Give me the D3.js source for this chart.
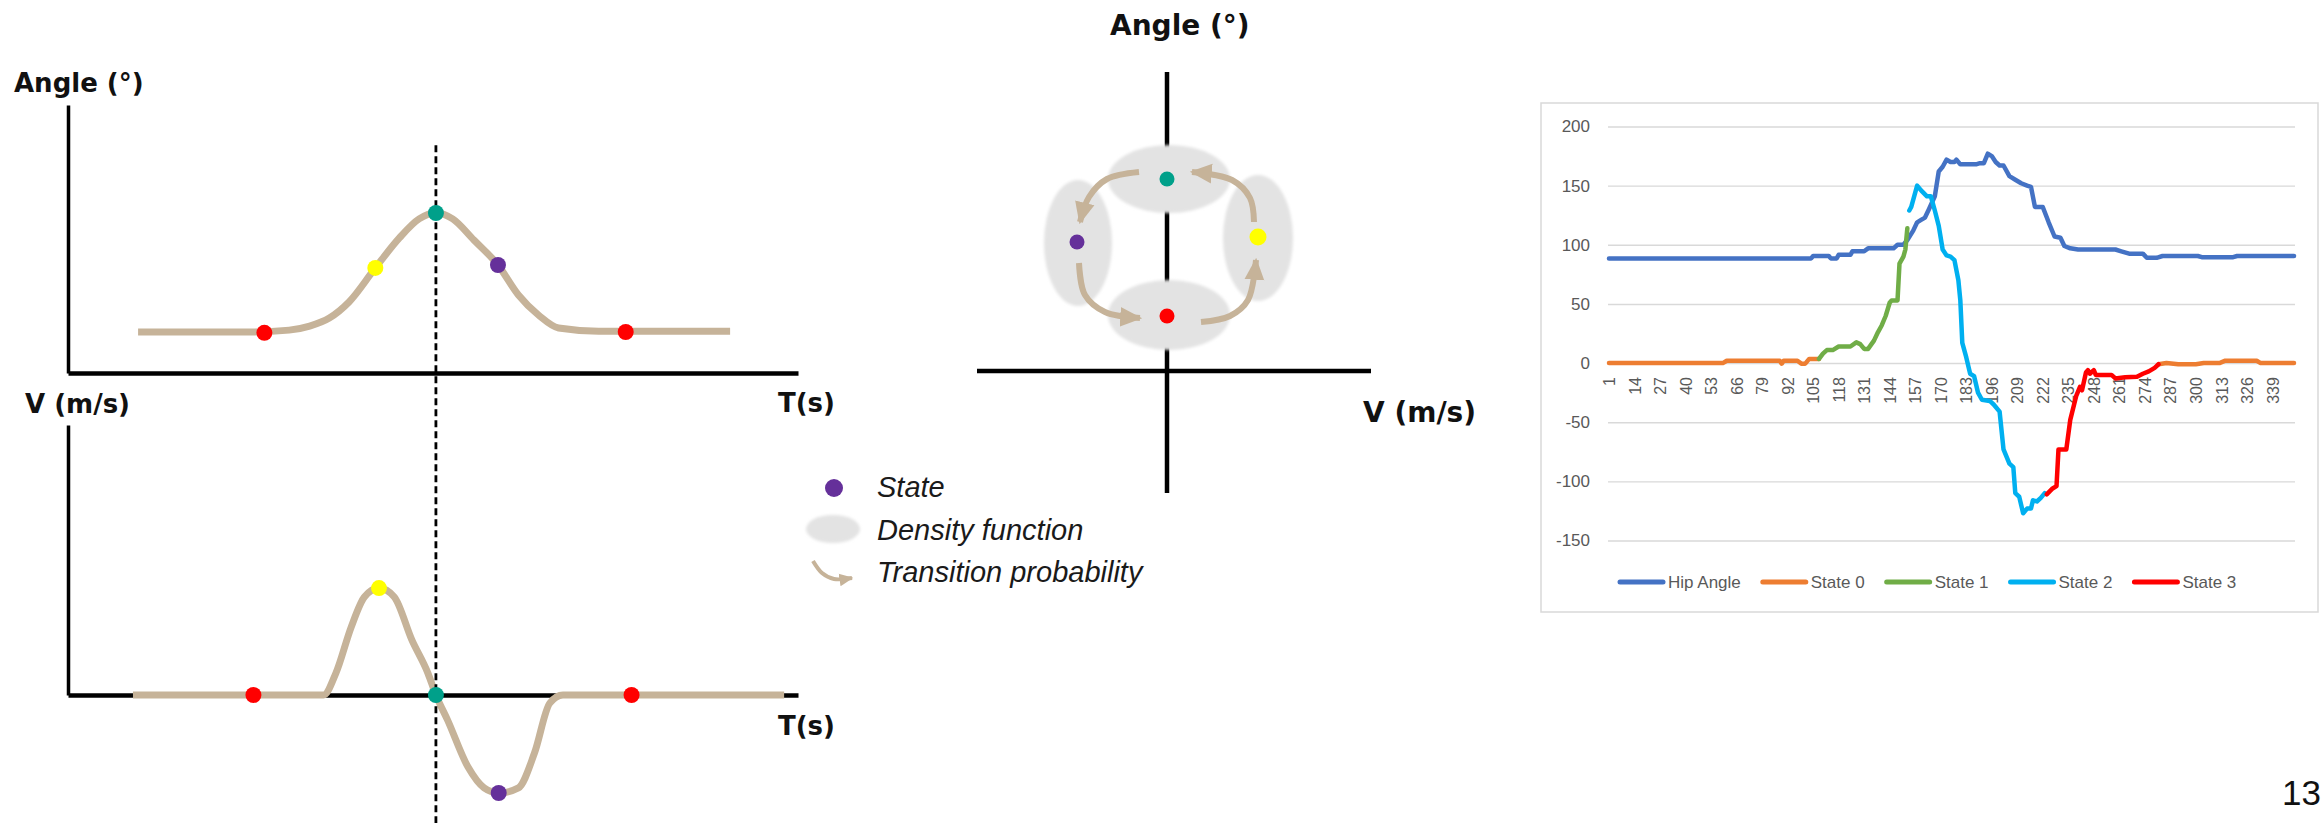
<!DOCTYPE html>
<html><head><meta charset="utf-8">
<script src="https://cdn.jsdelivr.net/npm/d3@7"></script>
<style>
html,body{margin:0;padding:0;background:#fff;}
svg{display:block;}
</style></head><body>
<svg id="fig" width="2323" height="823"></svg>
<script>
// ================= DATA =================
// --- left schematic: hip angle over time (arbitrary units 0..100) ---
const angleTime  = [9.6, 24.9, 30.3, 33.1, 35.8, 38.5, 42.1, 45.4, 48.1, 50.4, 52.7, 55.6, 58.9, 61.7, 64.5, 67.2, 72.7, 90.7];
const angleValue = [15.3, 15.3, 16.0, 17.5, 20.5, 26.5, 39.2, 50.4, 57.5, 59.7, 57.5, 49.6, 40.3, 29.1, 21.5, 16.8, 15.6, 15.6];
// --- left schematic: angular velocity over time ---
const velTime  = [8.9, 35.0, 36.7, 38.8, 40.6, 42.6, 44.7, 47.1, 49.3, 50.4, 52.0, 54.8, 57.0, 59.0, 61.7, 63.9, 66.0, 67.8, 98.1];
const velValue = [0, 0, 8.1, 25.2, 36.3, 39.6, 36.3, 20.4, 8.1, 0, -9.3, -26.7, -34.4, -36.3, -34.4, -21.5, -3.0, 0, 0];
// --- states marked on the schematic curves ---
const stateTime      = [26.9, 42.1, 50.4, 58.9, 76.4];
const stateAngle     = [15.0, 39.2, 59.7, 40.3, 15.3];
const stateVelTime   = [25.4, 42.6, 50.4, 59.0, 77.2];
const stateVel       = [0, 39.6, 0, -36.3, 0];
const stateColors    = ["#ff0000", "#ffff00", "#00a08a", "#65309a", "#ff0000"];
const dividerTime    = 50.4;
// --- middle: state space (velocity, angle) ---
const midStateV      = [0, -45, 0, 45.5];
const midStateA      = [96, 64.5, 27.5, 67];
const midStateColors = ["#00a08a", "#65309a", "#ff0000", "#ffff00"];
const densityV       = [1, -44.5, 1, 45.5];
const densityA       = [96, 64, 28, 66.5];
const densityRV      = [30.5, 17, 30.5, 17.5];
const densityRA      = [17, 31.5, 17.5, 31.5];
const transitions = [
  [[-14, 99.5], [-30, 96], [-39, 87], [-43.5, 74.5]],
  [[-44, 54], [-41, 38], [-31, 29.5], [-13.5, 26.5]],
  [[17, 24.5], [31.5, 27.5], [40.5, 35.5], [44.5, 55.5]],
  [[43.5, 74.5], [41.5, 86.5], [32.5, 95.5], [12.5, 99.5]]
];
const legendLabels = ["State", "Density function", "Transition probability"];
// --- right: Excel chart ---
const seriesNames  = ["Hip Angle", "State 0", "State 1", "State 2", "State 3"];
const seriesColors = ["#4472c4", "#ed7d31", "#70ad47", "#00b0f0", "#ff0000"];
const categoryCount = 350;
const xTickLabels = [1,14,27,40,53,66,79,92,105,118,131,144,157,170,183,196,209,222,235,248,261,274,287,300,313,326,339];
const yTickLabels = [-150,-100,-50,0,50,100,150,200];
const hipAngle = [[1,88.5],[104,88.5],[105,90.5],[113,90.5],[114,88.5],[117,88.5],[118,91.5],[124,91.5],[125,94.5],[131,94.5],[133,97],[146,97],[148,100],[151,100],[153,104],[156,112],[158,119],[160,121],[162,123],[164,130],[167,141],[169,162],[171,166],[173,172],[175,170],[177,170],[178,172],[180,168],[188,168],[190,169],[192,169],[194,177],[196,175],[198,170],[200,167],[202,167],[205,158],[208,155],[211,152],[214,150],[216,149],[218,132],[222,132],[225,119],[228,107],[231,106],[233,99],[236,97],[240,96],[259,96],[262,94.5],[266,92.5],[273,92.5],[275,89],[280,89],[283,90.5],[301,90.5],[303,89.5],[319,89.5],[321,90.5],[350,90.5]];
const state0 = [[1,0],[59,0],[61,2],[88,2],[89,-0.5],[90,2],[97,2],[99,-0.5],[101,-0.5],[103,3.5],[108,3.5],null,[281,-1],[285,0],[291,-1],[300,-1],[304,0],[312,0],[315,2],[331,2],[333,0],[350,0]];
const state1 = [[108,3.5],[110,8],[112,11],[115,11],[118,14],[124,14],[127,17.5],[129,16],[131,12],[133,12],[136,19],[138,26],[140,32],[142,40],[144,51],[145,53],[148,53],[149,84],[151,90],[152,96],[153,114]];
const state2 = [[154,129],[155,132],[158,150],[160,146],[163,141],[165,141],[167,129],[169,116],[171,96],[173,91],[175,90],[177,87],[179,70],[180,53],[181,17],[183,5],[185,-9],[187,-11],[189,-25],[191,-31],[195,-32],[197,-35],[200,-41],[202,-73],[205,-85],[207,-88],[208,-110],[210,-113],[212,-127],[214,-123],[216,-123],[217,-116],[219,-117],[221,-114],[223,-110]];
const state3 = [[224,-111],[227,-106],[229,-104],[230,-73],[234,-73],[236,-48],[239,-28],[241,-20],[242,-23],[244,-8],[245,-6],[246,-9],[248,-6],[249,-10],[257,-10],[259,-13],[264,-12],[270,-11.5],[273,-9],[276,-7],[279,-4],[281,-1]];
const pageNumber = "13";

// ================= DRAWING =================
const svg = d3.select("#fig");
svg.append("rect").attr("width", 2323).attr("height", 823).attr("fill", "#fff");
const BOLD = "'DejaVu Sans', sans-serif";
const SANS = "'Liberation Sans', Arial, sans-serif";
const TAN = "#c6b399";

const defs = svg.append("defs");
defs.append("filter").attr("id", "soft").attr("x", "-20%").attr("y", "-20%").attr("width", "140%").attr("height", "140%")
  .append("feGaussianBlur").attr("stdDeviation", 1.6);
defs.append("marker").attr("id", "head").attr("viewBox", "0 0 10 10")
  .attr("refX", 9).attr("refY", 5).attr("markerUnits", "userSpaceOnUse")
  .attr("markerWidth", 22).attr("markerHeight", 22).attr("orient", "auto")
  .append("path").attr("d", "M0,0.5L10,5L0,9.5Z").attr("fill", TAN);
defs.append("marker").attr("id", "headS").attr("viewBox", "0 0 10 10")
  .attr("refX", 9).attr("refY", 5).attr("markerUnits", "userSpaceOnUse")
  .attr("markerWidth", 14).attr("markerHeight", 14).attr("orient", "auto")
  .append("path").attr("d", "M0,0.5L10,5L0,9.5Z").attr("fill", TAN);

// ---------- left schematic ----------
const xT = d3.scaleLinear().domain([0, 100]).range([68, 798]);
const yA = d3.scaleLinear().domain([0, 100]).range([373, 105]);
const yV = d3.scaleLinear().domain([0, 100]).range([695, 425]);

function axisLines(g, yScale, yTop) {
  g.append("g").attr("transform", `translate(${xT(0)},0)`)
    .call(d3.axisLeft(yScale.copy().domain([0, yTop])).tickValues([]).tickSizeOuter(0))
    .select(".domain").attr("stroke", "#000").attr("stroke-width", 3.5);
  g.append("g").attr("transform", `translate(0,${yScale(0)})`)
    .call(d3.axisBottom(xT).tickValues([]).tickSizeOuter(0))
    .select(".domain").attr("stroke", "#000").attr("stroke-width", 4.5);
}
const left = svg.append("g");
axisLines(left, yA, 100);
axisLines(left, yV, 100);

const lineA = d3.line().x((d, i) => xT(angleTime[i])).y(d => yA(d)).curve(d3.curveMonotoneX);
left.append("path").attr("d", lineA(angleValue)).attr("fill", "none").attr("stroke", TAN).attr("stroke-width", 7).attr("stroke-linecap", "butt");
const lineV = d3.line().x((d, i) => xT(velTime[i])).y(d => yV(d)).curve(d3.curveMonotoneX);
left.append("path").attr("d", lineV(velValue)).attr("fill", "none").attr("stroke", TAN).attr("stroke-width", 7).attr("stroke-linecap", "butt");

// dashed divider
left.append("line").attr("x1", xT(dividerTime)).attr("x2", xT(dividerTime))
  .attr("y1", yA(85)).attr("y2", 823)
  .attr("stroke", "#000").attr("stroke-width", 2.8).attr("stroke-dasharray", "7,4");

left.selectAll("circle.sa").data(stateAngle).join("circle")
  .attr("cx", (d, i) => xT(stateTime[i])).attr("cy", d => yA(d)).attr("r", 8)
  .attr("fill", (d, i) => stateColors[i]);
left.selectAll("circle.sv").data(stateVel).join("circle")
  .attr("cx", (d, i) => xT(stateVelTime[i])).attr("cy", d => yV(d)).attr("r", 8)
  .attr("fill", (d, i) => stateColors[i]);

function boldLabel(g, x, y, txt, size) {
  g.append("text").attr("x", x).attr("y", y).text(txt)
    .attr("font-family", BOLD).attr("font-weight", "bold").attr("font-size", size).attr("fill", "#111");
}
boldLabel(left, 14, 92, "Angle (°)", 26);
boldLabel(left, 25, 413, "V (m/s)", 26);
boldLabel(left, 778, 412, "T(s)", 26);
boldLabel(left, 778, 735, "T(s)", 26);

// ---------- middle state-space diagram ----------
const xM = d3.scaleLinear().domain([-100, 100]).range([967, 1367]);
const yM = d3.scaleLinear().domain([-100, 100]).range([571, 171]);
const mid = svg.append("g");
mid.append("line").attr("x1", xM(0)).attr("x2", xM(0)).attr("y1", yM(149.5)).attr("y2", yM(-61))
  .attr("stroke", "#000").attr("stroke-width", 4.5);
mid.append("line").attr("x1", xM(-95)).attr("x2", xM(102)).attr("y1", yM(0)).attr("y2", yM(0))
  .attr("stroke", "#000").attr("stroke-width", 4.5);
mid.selectAll("ellipse.d").data(densityV).join("ellipse")
  .attr("cx", d => xM(d)).attr("cy", (d, i) => yM(densityA[i]))
  .attr("rx", (d, i) => xM(densityRV[i]) - xM(0)).attr("ry", (d, i) => yM(0) - yM(densityRA[i]))
  .attr("fill", "#e3e3e3").attr("filter", "url(#soft)");
const arrowLine = d3.line().x(d => xM(d[0])).y(d => yM(d[1])).curve(d3.curveCatmullRom);
mid.selectAll("path.tr").data(transitions).join("path")
  .attr("d", d => arrowLine(d)).attr("fill", "none").attr("stroke", TAN)
  .attr("stroke-width", 6).attr("marker-end", "url(#head)");
mid.selectAll("circle.ms").data(midStateV).join("circle")
  .attr("cx", d => xM(d)).attr("cy", (d, i) => yM(midStateA[i])).attr("r", (d, i) => i === 3 ? 8.5 : 7.5)
  .attr("fill", (d, i) => midStateColors[i]);
boldLabel(mid, 1110, 35, "Angle (°)", 28);
boldLabel(mid, 1363, 422, "V (m/s)", 28);

// legend of the schematic
const lg = svg.append("g").attr("transform", "translate(834,0)");
lg.append("circle").attr("cx", 0).attr("cy", 488).attr("r", 9).attr("fill", "#65309a");
lg.append("ellipse").attr("cx", -1).attr("cy", 529).attr("rx", 27).attr("ry", 14).attr("fill", "#e3e3e3").attr("filter", "url(#soft)");
lg.append("path").attr("d", d3.line().curve(d3.curveCatmullRom)([[-21, 561], [-12, 573], [0, 579], [18, 578]]))
  .attr("fill", "none").attr("stroke", TAN).attr("stroke-width", 4).attr("marker-end", "url(#headS)");
lg.selectAll("text").data(legendLabels).join("text")
  .attr("x", 43).attr("y", (d, i) => [497, 540, 582][i]).text(d => d)
  .attr("font-family", SANS).attr("font-style", "italic").attr("font-size", 29).attr("fill", "#1a1a1a");

// ---------- right: Excel line chart ----------
const right = svg.append("g");
right.append("rect").attr("x", 1541).attr("y", 103).attr("width", 777).attr("height", 509)
  .attr("fill", "#fff").attr("stroke", "#d9d9d9").attr("stroke-width", 1.5);
const cx = d3.scaleLinear().domain([0.5, categoryCount + 0.5]).range([1608, 2295]);
const cy = d3.scaleLinear().domain([-150, 200]).range([540.5, 126.5]);

const gy = right.append("g").attr("transform", `translate(${cx.range()[0]},0)`)
  .call(d3.axisLeft(cy).tickValues(yTickLabels).tickSize(-(cx.range()[1] - cx.range()[0])).tickPadding(18).tickFormat(d => String(d)));
gy.select(".domain").remove();
gy.selectAll(".tick line").attr("stroke", "#d9d9d9").attr("stroke-width", 1.4);
gy.selectAll(".tick text").attr("fill", "#595959").attr("font-size", 17).attr("font-family", SANS);

const gx = right.append("g").attr("transform", `translate(0,${cy(0)})`)
  .call(d3.axisBottom(cx).tickValues(xTickLabels).tickSize(0).tickFormat(d => String(d)));
gx.select(".domain").remove();
gx.selectAll(".tick text").attr("transform", "rotate(-90)").attr("x", -14).attr("y", 0).attr("dy", "0.35em")
  .style("text-anchor", "end").attr("fill", "#595959").attr("font-size", 16).attr("font-family", SANS);

const seriesData = [hipAngle, state0, state1, state2, state3];
const sLine = d3.line().defined(d => d !== null).x(d => cx(d[0])).y(d => cy(d[1]));
right.selectAll("path.series").data(seriesData).join("path")
  .attr("d", d => sLine(d)).attr("fill", "none")
  .attr("stroke", (d, i) => seriesColors[i]).attr("stroke-width", 4.5)
  .attr("stroke-linejoin", "round").attr("stroke-linecap", "round");

// legend
let lx = 1620;
seriesNames.forEach((name, i) => {
  const g = right.append("g");
  g.append("line").attr("x1", lx).attr("x2", lx + 43).attr("y1", 582).attr("y2", 582)
    .attr("stroke", seriesColors[i]).attr("stroke-width", 5).attr("stroke-linecap", "round");
  const t = g.append("text").attr("x", lx + 48).attr("y", 582).attr("dy", "0.35em").text(name)
    .attr("fill", "#595959").attr("font-size", 17).attr("font-family", SANS);
  lx += 43 + 5 + t.node().getComputedTextLength() + 22;
});

// page number
svg.append("text").attr("x", 2321).attr("y", 805).attr("text-anchor", "end").text(pageNumber)
  .attr("font-family", SANS).attr("font-size", 35).attr("fill", "#111");
</script>
</body></html>
